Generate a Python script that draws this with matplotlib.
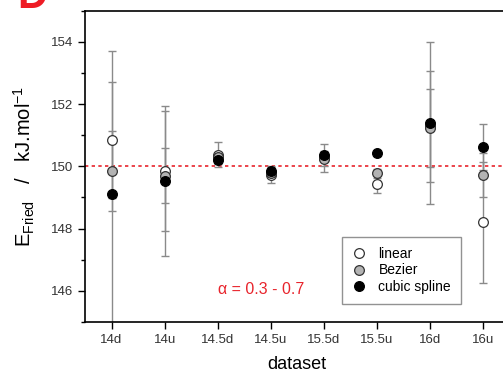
import matplotlib
matplotlib.use('Agg')
import matplotlib.pyplot as plt
from matplotlib.ticker import MultipleLocator

plt.rcParams['font.family'] = ['Liberation Sans', 'DejaVu Sans']
plt.rcParams['mathtext.fontset'] = 'custom'
plt.rcParams['mathtext.rm'] = 'Liberation Sans'

# data
categories = ['14d', '14u', '14.5d', '14.5u', '15.5d', '15.5u', '16d', '16u']
linear = [150.85, 149.85, 150.37, 149.72, 150.28, 149.42, 151.28, 148.20]
bezier = [149.84, 149.70, 150.30, 149.78, 150.22, 149.78, 151.22, 149.73]
cubic = [149.12, 149.54, 150.21, 149.85, 150.37, 150.42, 151.40, 150.63]
linear_err = [1.86, 1.92, 0.40, 0.25, 0.45, 0.29, 1.78, 1.95]
bezier_err = [1.28, 0.88, 0.15, 0.12, 0.20, 0.15, 1.25, 0.70]
cubic_err = [4.57, 2.41, 0.15, 0.15, 0.12, 0.08, 2.60, 0.74]

x = list(range(1, len(categories) + 1))

fig = plt.figure(figsize=(5.03, 3.78), dpi=100)
ax = fig.add_axes([0.169, 0.148, 0.844, 0.824])

# reference line
ax.axhline(150, color='#e8242c', lw=1.2, ls=(0, (2, 2)), zorder=1)

# error bars
for vals, errs in [(linear, linear_err), (bezier, bezier_err), (cubic, cubic_err)]:
    ax.errorbar(x, vals, yerr=errs, fmt='none', ecolor='#8a8a8a', elinewidth=1,
                capsize=3, capthick=1, zorder=2)

ms = 7
ax.plot(x, linear, 'o', ms=ms, mfc='white', mec='#333333', mew=0.9, ls='none',
        label='linear', zorder=3)
ax.plot(x, bezier, 'o', ms=ms, mfc='#b3b3b3', mec='#333333', mew=0.9, ls='none',
        label='Bezier', zorder=4)
ax.plot(x, cubic, 'o', ms=ms, mfc='black', mec='black', mew=0.9, ls='none',
        label='cubic spline', zorder=5)

ax.set_xlim(0.5, 8.5)
ax.set_ylim(145, 155)
ax.set_xticks(x)
ax.set_xticklabels(categories)
ax.yaxis.set_major_locator(MultipleLocator(2))
ax.yaxis.set_minor_locator(MultipleLocator(1))
ax.set_yticks([146, 148, 150, 152, 154])

ax.tick_params(axis='both', which='major', direction='out', length=5, width=1,
               labelsize=9.5, colors='black', labelcolor='#333333')
ax.tick_params(axis='y', which='minor', direction='out', length=3, width=1)
for s in ax.spines.values():
    s.set_linewidth(1.2)

ax.set_xlabel('dataset', fontsize=13, labelpad=7)
ax.set_ylabel(r'$\mathregular{E_{Fried}}$   /   kJ.mol$^{\mathregular{-1}}$', fontsize=14.5, labelpad=10)

ax.text(3.0, 146.05, 'α = 0.3 - 0.7', color='#e8242c', fontsize=11.5, va='center', ha='left')

leg = ax.legend(loc='lower left', bbox_to_anchor=(0.606, 0.058), fontsize=10,
                frameon=True, fancybox=False, edgecolor='#777777', handlelength=1.0,
                handletextpad=0.9, borderpad=0.7, labelspacing=0.2, borderaxespad=0)
leg.get_frame().set_linewidth(1.0)

# panel letter, cut off at the top like the reference
fig.text(0.035, 0.978, 'D', color='#ee1c25', fontsize=30, fontweight='bold',
         va='baseline', ha='left')

fig.savefig('out.png', dpi=100)
